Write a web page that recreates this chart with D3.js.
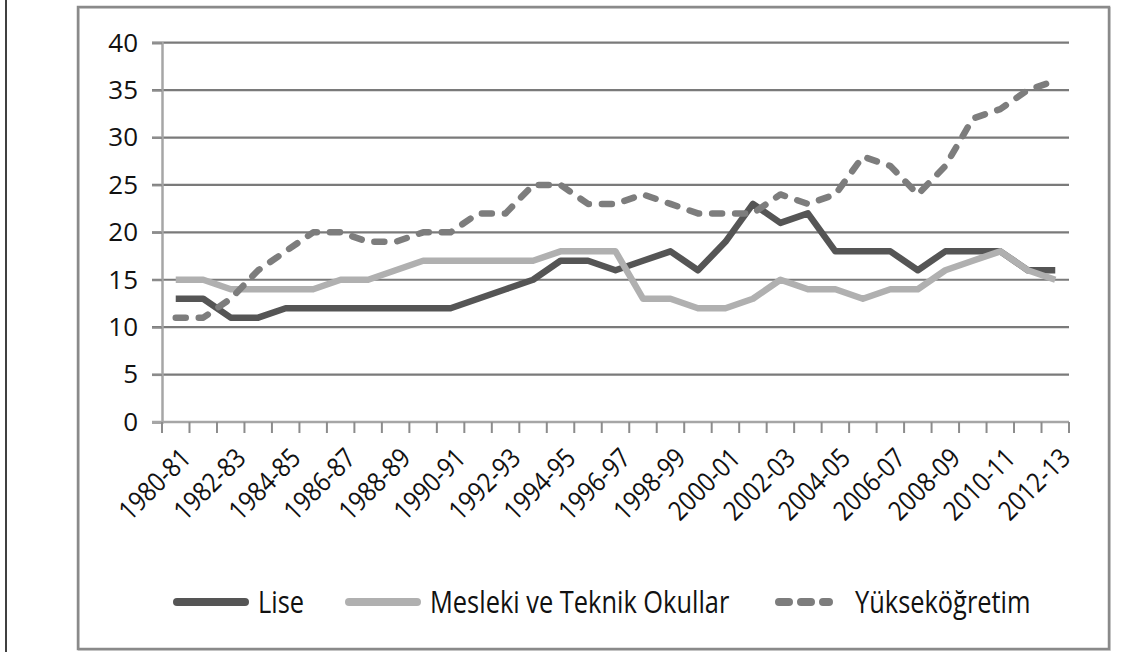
<!DOCTYPE html>
<html>
<head>
<meta charset="utf-8">
<script src="https://cdn.jsdelivr.net/npm/d3@7"></script>
<style>
  body { margin: 0; background: #fff; }
  text { font-family: "Open Sans", sans-serif; fill: #111; }
</style>
</head>
<body>
<script>
// School years, one per category
var years = [
  '1980-81','1981-82','1982-83','1983-84','1984-85','1985-86','1986-87','1987-88',
  '1988-89','1989-90','1990-91','1991-92','1992-93','1993-94','1994-95','1995-96',
  '1996-97','1997-98','1998-99','1999-00','2000-01','2001-02','2002-03','2003-04',
  '2004-05','2005-06','2006-07','2007-08','2008-09','2009-10','2010-11','2011-12','2012-13'
]

var lise = [13,13,11,11,12,12,12,12,12,12,12,13,14,15,17,17,16,17,18,16,19,23,21,22,18,18,18,16,18,18,18,16,16]
var mesleki = [15,15,14,14,14,14,15,15,16,17,17,17,17,17,18,18,18,13,13,12,12,13,15,14,14,13,14,14,16,17,18,16,15]
var yuksek = [11,11,13,16,18,20,20,19,19,20,20,22,22,25,25,23,23,24,23,22,22,22,24,23,24,28,27,24,27,32,33,35,36]

var yTicks = [0,5,10,15,20,25,30,35,40]

var series = [
  { name: 'Lise', values: lise, color: '#555555', dash: null },
  { name: 'Mesleki ve Teknik Okullar', values: mesleki, color: '#b0b0b0', dash: null },
  { name: 'Yükseköğretim', values: yuksek, color: '#7d7d7d', dash: '10,13' }
]

var W = 1121, H = 657
  , svg = d3.select('body').append('svg').attr('width', W).attr('height', H)

var x = d3.scaleBand().domain(years).range([162, 1069]).padding(0)
  , y = d3.scaleLinear().domain([0, 40]).range([422, 42.7])

// page edge line and the framed figure
svg.append('line').attr('x1', 6).attr('x2', 6).attr('y1', 0).attr('y2', 652)
  .attr('stroke', '#000').attr('stroke-width', 1.5)
svg.append('rect').attr('x', 79).attr('y', 8).attr('width', 1031).attr('height', 642)
  .attr('fill', 'none').attr('stroke', '#d6d6d6').attr('stroke-width', 2)
svg.append('rect').attr('x', 78).attr('y', 7).attr('width', 1031).attr('height', 642)
  .attr('fill', 'none').attr('stroke', '#8a8a8a').attr('stroke-width', 2.5)

// horizontal gridlines, with the small tick stub left of the axis
svg.append('g').selectAll('line').data(yTicks.filter(function(d) { return d > 0 })).enter().append('line')
  .attr('x1', 152).attr('x2', 1069)
  .attr('y1', function(d) { return y(d) }).attr('y2', function(d) { return y(d) })
  .attr('stroke', '#7a7a7a').attr('stroke-width', 2.2)

// y axis
var yAxis = svg.append('g').attr('transform', 'translate(162,0)')
  .call(d3.axisLeft(y).tickValues(yTicks).tickSize(10).tickPadding(14))
yAxis.select('.domain').attr('stroke', '#a6a6a6').attr('stroke-width', 2.5)
yAxis.selectAll('.tick line').attr('stroke', '#8c8c8c').attr('stroke-width', 2)
yAxis.selectAll('.tick text').style('font-size', '26px').attr('fill', '#111')

// x axis: ticks between categories, labels on every second year
var xg = svg.append('g')
xg.append('line').attr('x1', 152).attr('x2', 1069).attr('y1', y(0)).attr('y2', y(0))
  .attr('stroke', '#a6a6a6').attr('stroke-width', 2.5)
var bounds = years.map(function(d) { return x(d) }).concat([x.range()[1]])
xg.selectAll('line.tk').data(bounds).enter().append('line').attr('class', 'tk')
  .attr('x1', function(d) { return d }).attr('x2', function(d) { return d })
  .attr('y1', y(0)).attr('y2', y(0) + 11)
  .attr('stroke', '#8c8c8c').attr('stroke-width', 2)
xg.selectAll('text').data(years.filter(function(d, i) { return i % 2 === 0 })).enter().append('text')
  .attr('transform', function(d) {
    return 'translate(' + (x(d) + x.bandwidth() / 2 + 10) + ',' + (y(0) + 31) + ') rotate(-45) scale(0.87,1)'
  })
  .attr('text-anchor', 'end').attr('dy', '0.35em')
  .style('font-size', '27px')
  .text(function(d) { return d })

// series lines
var line = d3.line()
  .x(function(d, i) { return x(years[i]) + x.bandwidth() / 2 })
  .y(function(d) { return y(d) })

svg.append('g').selectAll('path').data(series).enter().append('path')
  .attr('d', function(s) { return line(s.values) })
  .attr('fill', 'none')
  .attr('stroke', function(s) { return s.color })
  .attr('stroke-width', 6.5)
  .attr('stroke-linejoin', 'round')
  .attr('stroke-linecap', function(s) { return s.dash ? 'round' : 'butt' })
  .attr('stroke-dasharray', function(s) { return s.dash })

// legend
var legendX = [177, 349, 779]
var lg = svg.append('g').selectAll('g').data(series).enter().append('g')
  .attr('transform', function(s, i) { return 'translate(' + legendX[i] + ',602)' })
lg.append('line').attr('x1', 0).attr('x2', function(s) { return s.dash ? 50 : 68 })
  .attr('stroke', function(s) { return s.color })
  .attr('stroke-width', 8)
  .attr('stroke-linecap', 'round')
  .attr('stroke-dasharray', function(s) { return s.dash ? '10,12' : null })
lg.append('text')
  .attr('transform', function(s) { return 'translate(' + (s.dash ? 76 : 81) + ',0) scale(0.82,1)' })
  .attr('dy', '0.36em')
  .style('font-size', '31px')
  .text(function(s) { return s.name })
</script>
</body>
</html>
